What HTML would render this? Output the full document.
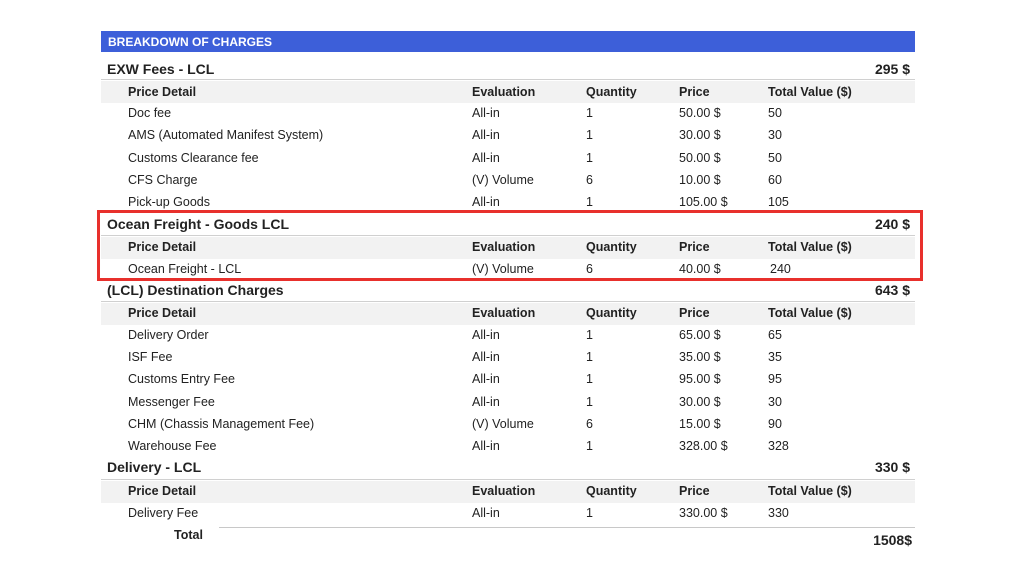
<!DOCTYPE html>
<html><head><meta charset="utf-8"><style>
body{margin:0;width:1024px;height:576px;background:#fff;position:relative;overflow:hidden;font-family:"Liberation Sans",Arial,sans-serif;color:#222}
.a{position:absolute;white-space:nowrap;line-height:16px}
.t{font-size:12.5px}
.h{font-size:12.5px;font-weight:bold}
.s{font-size:14px;font-weight:bold;line-height:18px}
.band{position:absolute;left:101px;width:814px;height:22px;background:#f2f2f2}
.ln{position:absolute;left:101px;width:814px;height:1px;background:#d0d0d0}
</style></head><body>
<div style="position:absolute;left:101px;top:31px;width:814px;height:21px;background:#3d5fd9"></div>
<div class="a" style="left:108px;top:34px;color:#fff;font-size:12px;font-weight:bold">BREAKDOWN OF CHARGES</div>

<div class="ln" style="top:79px"></div><div class="band" style="top:81px"></div>
<div class="ln" style="top:235px"></div><div class="band" style="top:237px"></div>
<div class="ln" style="top:301px"></div><div class="band" style="top:303px"></div>
<div class="ln" style="top:479px"></div><div class="band" style="top:481px"></div>

<div class="a s" style="left:107px;top:60px">EXW Fees - LCL</div><div class="a s" style="right:114px;top:60px">295 $</div>
<div class="a s" style="left:107px;top:215px">Ocean Freight - Goods LCL</div><div class="a s" style="right:114px;top:215px">240 $</div>
<div class="a s" style="left:107px;top:281px">(LCL) Destination Charges</div><div class="a s" style="right:114px;top:281px">643 $</div>
<div class="a s" style="left:107px;top:458px">Delivery - LCL</div><div class="a s" style="right:114px;top:458px">330 $</div>

<div class="a h" style="left:128px;top:84px">Price Detail</div><div class="a h" style="left:472px;top:84px">Evaluation</div><div class="a h" style="left:586px;top:84px">Quantity</div><div class="a h" style="left:679px;top:84px">Price</div><div class="a h" style="left:768px;top:84px">Total Value ($)</div>
<div class="a h" style="left:128px;top:239px">Price Detail</div><div class="a h" style="left:472px;top:239px">Evaluation</div><div class="a h" style="left:586px;top:239px">Quantity</div><div class="a h" style="left:679px;top:239px">Price</div><div class="a h" style="left:768px;top:239px">Total Value ($)</div>
<div class="a h" style="left:128px;top:305px">Price Detail</div><div class="a h" style="left:472px;top:305px">Evaluation</div><div class="a h" style="left:586px;top:305px">Quantity</div><div class="a h" style="left:679px;top:305px">Price</div><div class="a h" style="left:768px;top:305px">Total Value ($)</div>
<div class="a h" style="left:128px;top:483px">Price Detail</div><div class="a h" style="left:472px;top:483px">Evaluation</div><div class="a h" style="left:586px;top:483px">Quantity</div><div class="a h" style="left:679px;top:483px">Price</div><div class="a h" style="left:768px;top:483px">Total Value ($)</div>

<div class="a t" style="left:128px;top:105px">Doc fee</div><div class="a t" style="left:472px;top:105px">All-in</div><div class="a t" style="left:586px;top:105px">1</div><div class="a t" style="left:679px;top:105px">50.00 $</div><div class="a t" style="left:768px;top:105px">50</div>
<div class="a t" style="left:128px;top:127px">AMS (Automated Manifest System)</div><div class="a t" style="left:472px;top:127px">All-in</div><div class="a t" style="left:586px;top:127px">1</div><div class="a t" style="left:679px;top:127px">30.00 $</div><div class="a t" style="left:768px;top:127px">30</div>
<div class="a t" style="left:128px;top:150px">Customs Clearance fee</div><div class="a t" style="left:472px;top:150px">All-in</div><div class="a t" style="left:586px;top:150px">1</div><div class="a t" style="left:679px;top:150px">50.00 $</div><div class="a t" style="left:768px;top:150px">50</div>
<div class="a t" style="left:128px;top:172px">CFS Charge</div><div class="a t" style="left:472px;top:172px">(V) Volume</div><div class="a t" style="left:586px;top:172px">6</div><div class="a t" style="left:679px;top:172px">10.00 $</div><div class="a t" style="left:768px;top:172px">60</div>
<div class="a t" style="left:128px;top:194px">Pick-up Goods</div><div class="a t" style="left:472px;top:194px">All-in</div><div class="a t" style="left:586px;top:194px">1</div><div class="a t" style="left:679px;top:194px">105.00 $</div><div class="a t" style="left:768px;top:194px">105</div>

<div class="a t" style="left:128px;top:261px">Ocean Freight - LCL</div><div class="a t" style="left:472px;top:261px">(V) Volume</div><div class="a t" style="left:586px;top:261px">6</div><div class="a t" style="left:679px;top:261px">40.00 $</div><div class="a t" style="left:770px;top:261px">240</div>

<div class="a t" style="left:128px;top:327px">Delivery Order</div><div class="a t" style="left:472px;top:327px">All-in</div><div class="a t" style="left:586px;top:327px">1</div><div class="a t" style="left:679px;top:327px">65.00 $</div><div class="a t" style="left:768px;top:327px">65</div>
<div class="a t" style="left:128px;top:349px">ISF Fee</div><div class="a t" style="left:472px;top:349px">All-in</div><div class="a t" style="left:586px;top:349px">1</div><div class="a t" style="left:679px;top:349px">35.00 $</div><div class="a t" style="left:768px;top:349px">35</div>
<div class="a t" style="left:128px;top:371px">Customs Entry Fee</div><div class="a t" style="left:472px;top:371px">All-in</div><div class="a t" style="left:586px;top:371px">1</div><div class="a t" style="left:679px;top:371px">95.00 $</div><div class="a t" style="left:768px;top:371px">95</div>
<div class="a t" style="left:128px;top:394px">Messenger Fee</div><div class="a t" style="left:472px;top:394px">All-in</div><div class="a t" style="left:586px;top:394px">1</div><div class="a t" style="left:679px;top:394px">30.00 $</div><div class="a t" style="left:768px;top:394px">30</div>
<div class="a t" style="left:128px;top:416px">CHM (Chassis Management Fee)</div><div class="a t" style="left:472px;top:416px">(V) Volume</div><div class="a t" style="left:586px;top:416px">6</div><div class="a t" style="left:679px;top:416px">15.00 $</div><div class="a t" style="left:768px;top:416px">90</div>
<div class="a t" style="left:128px;top:438px">Warehouse Fee</div><div class="a t" style="left:472px;top:438px">All-in</div><div class="a t" style="left:586px;top:438px">1</div><div class="a t" style="left:679px;top:438px">328.00 $</div><div class="a t" style="left:768px;top:438px">328</div>

<div class="a t" style="left:128px;top:505px">Delivery Fee</div><div class="a t" style="left:472px;top:505px">All-in</div><div class="a t" style="left:586px;top:505px">1</div><div class="a t" style="left:679px;top:505px">330.00 $</div><div class="a t" style="left:768px;top:505px">330</div>

<div style="position:absolute;left:219px;top:527px;width:696px;height:1px;background:#c8c8c8"></div>
<div class="a h" style="left:174px;top:527px">Total</div>
<div class="a h" style="right:112px;top:532px;font-size:14px">1508$</div>

<div style="position:absolute;left:97px;top:210px;width:820px;height:65px;border:3px solid #e8302c"></div>
</body></html>
